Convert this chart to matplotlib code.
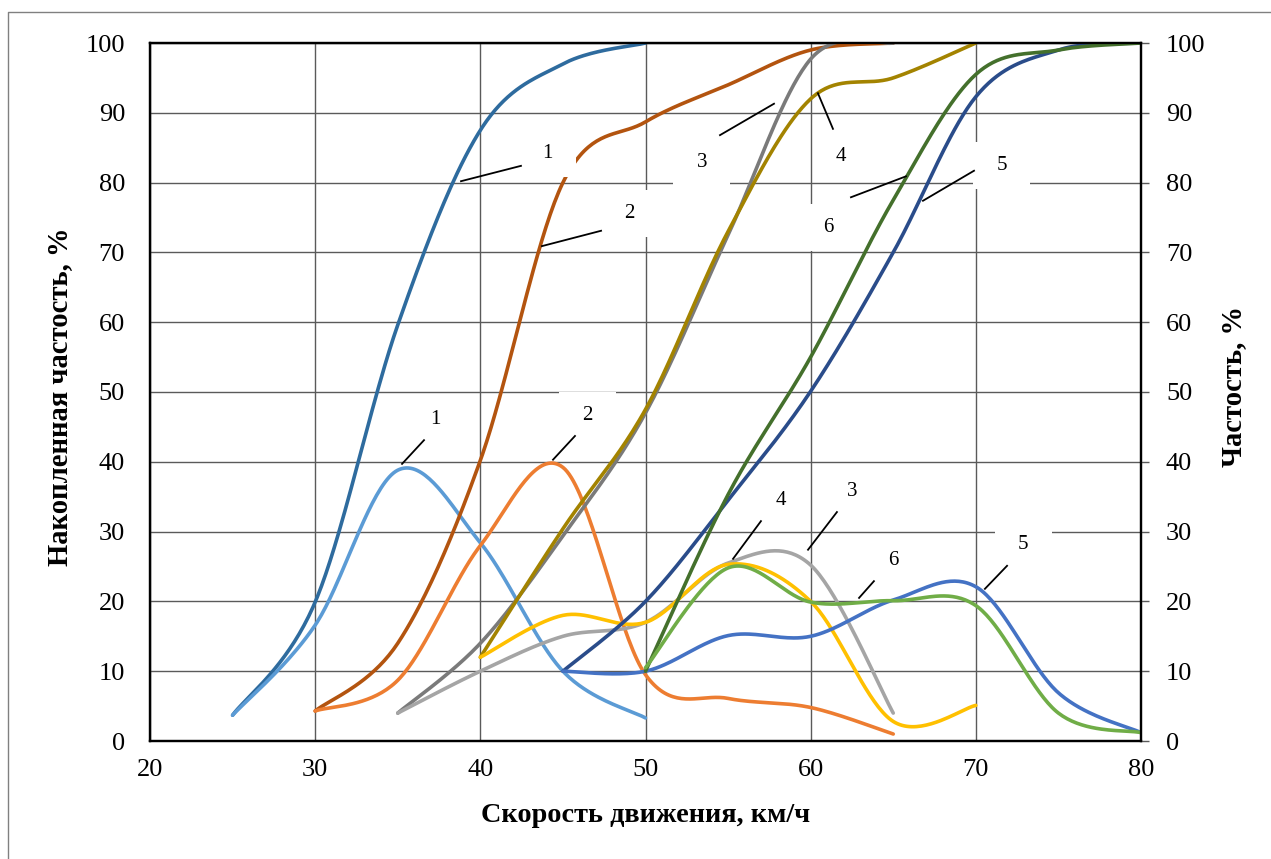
import numpy as np
import matplotlib
matplotlib.use("Agg")
import matplotlib.pyplot as plt
from matplotlib.patches import Rectangle
from matplotlib.lines import Line2D

plt.rcParams['font.family'] = ['Liberation Serif', 'DejaVu Serif']

# ---------------- data ----------------
# cumulative frequency curves (left axis)
cum1_x = [25, 30, 35, 40, 45, 50]
cum1_y = [3.7, 19.9, 59.6, 87.5, 97.0, 100]
cum2_x = [30, 35, 40, 45, 50, 55, 60, 65]
cum2_y = [4.3, 14.0, 40.2, 80.0, 88.7, 94.0, 99.0, 100]
cum3_x = [35, 40, 45, 50, 55, 60, 65]
cum3_y = [4.0, 14.0, 29.4, 47.0, 72.5, 97.7, 100]
cum4_x = [40, 45, 50, 55, 60, 65, 70]
cum4_y = [12.0, 30.4, 47.5, 73.0, 92.0, 95.0, 100]
cum5_x = [45, 50, 55, 60, 65, 70, 75, 80]
cum5_y = [10.0, 20.0, 34.5, 50.1, 70.0, 92.3, 99.0, 100]
cum6_x = [50, 55, 60, 65, 70, 75, 80]
cum6_y = [10.0, 35.3, 55.0, 77.5, 95.5, 99.0, 100]

# frequency curves (right axis)
frq1_x = [25, 30, 35, 40, 45, 50]
frq1_y = [3.7, 16.6, 38.8, 28.4, 10.0, 3.3]
frq2_x = [30, 35, 40, 45, 50, 55, 60, 65]
frq2_y = [4.3, 8.7, 28.0, 39.2, 9.5, 6.1, 4.8, 1.0]
frq3_x = [35, 40, 45, 50, 55, 60, 65]
frq3_y = [4.0, 10.0, 15.0, 17.0, 25.5, 25.2, 4.0]
frq4_x = [40, 45, 50, 55, 60, 65, 70]
frq4_y = [12.0, 18.0, 17.0, 25.3, 20.0, 2.8, 5.1]
frq5_x = [45, 50, 55, 60, 65, 70, 75, 80]
frq5_y = [10.0, 10.0, 15.1, 15.0, 20.2, 22.1, 6.9, 1.2]
frq6_x = [50, 55, 60, 65, 70, 75, 80]
frq6_y = [10.5, 24.8, 19.9, 20.1, 19.4, 4.0, 1.2]

cum_colors = ['#2E6B9E', '#B3540F', '#7A7A7A', '#A38300', '#2A4C8A', '#44702C']
frq_colors = ['#5B9BD5', '#ED7D31', '#A5A5A5', '#FFC000', '#4472C4', '#70AD47']

x_ticks = [20, 30, 40, 50, 60, 70, 80]
y_ticks = [0, 10, 20, 30, 40, 50, 60, 70, 80, 90, 100]

# curve labels: (text, text position, leader start, leader end)
cum_labels = [
    ("1", (44.04, 84.2), (38.83, 80.2), (42.46, 82.4)),
    ("2", (49.00, 75.6), (43.73, 70.9), (47.31, 73.1)),
    ("3", (53.42, 82.9), (54.51, 86.8), (57.78, 91.3)),
    ("4", (61.84, 83.7), (60.44, 92.8), (61.35, 87.7)),
    ("5", (71.58, 82.4), (66.80, 77.4), (69.89, 81.7)),
    ("6", (61.05, 73.6), (62.44, 77.9), (65.77, 80.9)),
]
frq_labels = [
    ("1", (37.25, 46.0), (35.26, 39.7), (36.59, 43.1)),
    ("2", (46.46, 46.6), (44.40, 40.3), (45.73, 43.7)),
    ("3", (62.50, 35.8), (59.84, 27.4), (61.59, 32.8)),
    ("4", (58.20, 34.4), (55.30, 26.1), (56.99, 31.5)),
    ("5", (72.86, 28.2), (70.55, 21.8), (71.89, 25.1)),
    ("6", (64.98, 25.8), (62.93, 20.5), (63.83, 22.9)),
]


def smooth(xs, ys, n=40):
    """Excel-like smoothed line (Catmull-Rom Bezier) through the data points."""
    P = np.column_stack([xs, ys]).astype(float)
    out = []
    for i in range(len(P) - 1):
        p0 = P[i - 1] if i > 0 else P[i]
        p1, p2 = P[i], P[i + 1]
        p3 = P[i + 2] if i + 2 < len(P) else P[i + 1]
        c1 = p1 + (p2 - p0) / 6.0
        c2 = p2 - (p3 - p1) / 6.0
        t = np.linspace(0, 1, n)[:, None]
        seg = ((1 - t) ** 3) * p1 + 3 * ((1 - t) ** 2) * t * c1 + 3 * (1 - t) * t ** 2 * c2 + t ** 3 * p2
        out.append(seg if i == 0 else seg[1:])
    pts = np.vstack(out)
    return pts[:, 0], pts[:, 1]


W, H = 1271, 859
fig = plt.figure(figsize=(W / 100, H / 100), dpi=100)
L, R, T, B = 150, 1141, 43, 741
ax = fig.add_axes([L / W, 1 - B / H, (R - L) / W, (B - T) / H])
ax.set_xlim(20, 80)
ax.set_ylim(0, 100)

grid_c = '#5a5a5a'
ax.set_xticks(x_ticks)
ax.set_yticks(y_ticks)
ax.grid(True, color=grid_c, linewidth=1.0, zorder=0)
ax.set_axisbelow(True)
ax.tick_params(axis='both', length=0, labelsize=19)
ax.tick_params(axis='y', pad=18)
ax.tick_params(axis='x', pad=13)
for s in ax.spines.values():
    s.set_color('black')
    s.set_linewidth(1.6)

ax2 = ax.twinx()
ax2.set_ylim(0, 100)
ax2.set_yticks(y_ticks)
ax2.tick_params(axis='y', direction='out', length=6, width=1.0, color=grid_c,
                labelsize=19, pad=12)
for s in ax2.spines.values():
    s.set_color('black')
    s.set_linewidth(1.6)

cums = [(cum1_x, cum1_y), (cum2_x, cum2_y), (cum3_x, cum3_y),
        (cum4_x, cum4_y), (cum5_x, cum5_y), (cum6_x, cum6_y)]
frqs = [(frq1_x, frq1_y), (frq2_x, frq2_y), (frq3_x, frq3_y),
        (frq4_x, frq4_y), (frq5_x, frq5_y), (frq6_x, frq6_y)]

z = 3
for i in range(6):
    cx, cy = smooth(*cums[i])
    ax.plot(cx, cy, color=cum_colors[i], linewidth=2.6, zorder=z,
            solid_capstyle='round')
    z += 1
    fx, fy = smooth(*frqs[i])
    ax.plot(fx, fy, color=frq_colors[i], linewidth=2.6, zorder=z,
            solid_capstyle='round')
    z += 1

# white label boxes + labels + leader lines
bw = 57 / (R - L) * 60
bh = 47 / (B - T) * 100
for txt, (tx, ty), p, q in cum_labels + frq_labels:
    ax.add_patch(Rectangle((tx - bw / 2, ty - bh / 2), bw, bh, facecolor='white',
                           edgecolor='none', zorder=30))
    ax.text(tx, ty, txt, fontsize=15, ha='center', va='center', zorder=31)
    ax.plot([p[0], q[0]], [p[1], q[1]], color='black', linewidth=1.3, zorder=32)

fig.text(645.5 / W, 1 - 815 / H, 'Скорость движения, км/ч', fontsize=20.3,
         fontweight='bold', ha='center', va='center')
fig.text(60 / W, 1 - 397 / H, 'Накопленная частость, %', fontsize=20.6,
         fontweight='bold', ha='center', va='center', rotation=90)
fig.text(1234 / W, 1 - 387 / H, 'Частость, %', fontsize=20.6,
         fontweight='bold', ha='center', va='center', rotation=90)

# outer chart frame (partially visible)
fig.add_artist(Line2D([7.5 / W, 7.5 / W, 1.0], [0.0, 1 - 12 / H, 1 - 12 / H],
                      transform=fig.transFigure, color='#808080', linewidth=1.0))

fig.savefig('out.png', dpi=100)
